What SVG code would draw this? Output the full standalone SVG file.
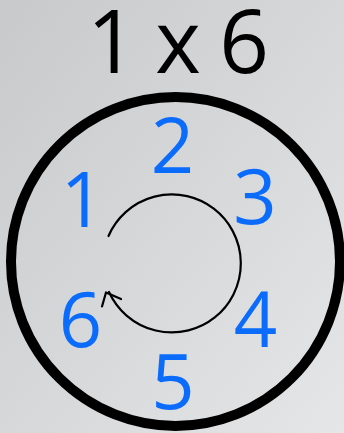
<svg xmlns="http://www.w3.org/2000/svg" width="344" height="433" viewBox="0 0 344 433">
  <defs>
    <linearGradient id="bg" x1="0" y1="0" x2="1" y2="1">
      <stop offset="0" stop-color="#c8c9cb"/>
      <stop offset="1" stop-color="#e5e6e8"/>
    </linearGradient>
    <style>
      .num { font-family: "Open Sans", "Noto Sans", "Liberation Sans", sans-serif; font-size: 76px; fill: #0b6cfc; text-anchor: middle; }
      .title { font-family: "Open Sans", "Noto Sans", "Liberation Sans", sans-serif; font-size: 87px; fill: #000; text-anchor: middle; letter-spacing: -2px; }
      .ring { fill: none; stroke: #000; stroke-width: 10; }
      .cycle { fill: none; stroke: #000; stroke-width: 2.2; stroke-linecap: round; stroke-linejoin: round; }
    </style>
  </defs>
  <rect x="0" y="0" width="344" height="433" fill="url(#bg)"/>
  <g id="title"><text class="title" x="177" y="73">1 x 6</text></g>
  <g id="ring"><circle class="ring" cx="175.5" cy="261.5" r="164.5"/></g>
  <g id="connectors">
    <path class="cycle" d="M 108.5 236 A 69 69 0 1 1 109 292"/>
    <path class="cycle" d="M 121 299 L 106 292.5 L 102 306.5"/>
  </g>
  <g id="n1"><text class="num" x="82.5" y="227">1</text></g>
  <g id="n2"><text class="num" x="172.5" y="173">2</text></g>
  <g id="n3"><text class="num" x="255" y="224">3</text></g>
  <g id="n4"><text class="num" x="255.5" y="346.5">4</text></g>
  <g id="n5"><text class="num" x="173" y="408.5">5</text></g>
  <g id="n6"><text class="num" x="80.5" y="347">6</text></g>
</svg>
